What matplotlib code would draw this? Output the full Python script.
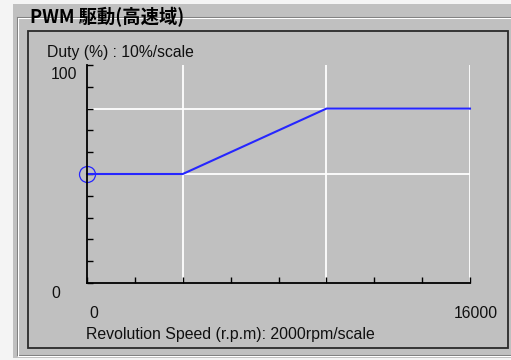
import matplotlib
matplotlib.use("Agg")
import matplotlib.pyplot as plt
from matplotlib.patches import Rectangle
from matplotlib.lines import Line2D

# Duty map for PWM drive in the high-speed range
speed_rpm = [0, 4000, 10000, 16000]
duty_pct = [50, 50, 80, 80]

x_ticks = list(range(0, 16001, 2000))
y_ticks = list(range(0, 101, 10))
grid_x = [4000, 10000, 16000]
grid_y = [50, 80]

title = "PWM 駆動(高速域)"
y_title = "Duty (%) : 10%/scale"
x_title = "Revolution Speed (r.p.m): 2000rpm/scale"
x_min_label, x_max_label = "0", "16000"
y_min_label, y_max_label = "0", "100"

W, H = 511, 360
PANEL = "#c0c0c0"
LINE_BLUE = "#2626ff"
TXT = "#101010"
font = ["Liberation Sans", "DejaVu Sans"]
cjk = ["Noto Sans CJK JP", "DejaVu Sans"]

fig = plt.figure(figsize=(W / 100, H / 100), dpi=100, facecolor="#f4f4f4")

# background layer in pixel coordinates: dialog panel, group box, inner frame
bg = fig.add_axes([0, 0, 1, 1])
bg.set_xlim(0, W)
bg.set_ylim(H, 0)
bg.axis("off")
bg.add_patch(Rectangle((13, 4), W - 13, 354, facecolor=PANEL, edgecolor="none"))

# etched group box lines
for off, col in ((0, "#808080"), (1, "#ffffff")):
    bg.add_line(Line2D([17 + off, W], [17 + off, 17 + off], color=col, lw=0.75))
    bg.add_line(Line2D([17 + off, 17 + off], [17 + off, 355 + off], color=col, lw=0.75))
    bg.add_line(Line2D([17 + off, W], [355 + off, 355 + off], color=col, lw=0.75))

# inner sunken frame
bg.add_patch(Rectangle((28, 31), 479.5, 317, facecolor=PANEL,
                       edgecolor="#2a2a2a", lw=1.3))

# group title with panel-coloured backing that breaks the etched line
bg.add_patch(Rectangle((25, 7), 169, 20, facecolor=PANEL, edgecolor="none"))
bg.text(30, 17.0, title, family=cjk, fontsize=13.2, fontweight="bold",
        color="#000000", ha="left", va="center")

bg.text(47, 53, y_title, family=font, fontsize=11.3, color=TXT,
        ha="left", va="center")
bg.text(86, 335, x_title, family=font, fontsize=11.4, color=TXT,
        ha="left", va="center")

# chart area
ax = fig.add_axes([87 / W, (H - 283) / H, 383 / W, 218 / H])
ax.set_facecolor("none")
ax.set_xlim(0, 16000)
ax.set_ylim(0, 100)
for side in ("top", "right"):
    ax.spines[side].set_visible(False)
for side in ("left", "bottom"):
    ax.spines[side].set_linewidth(1.3)
    ax.spines[side].set_color("#000000")
    ax.spines[side].set_zorder(5)

ax.set_xticks(x_ticks)
ax.set_yticks(y_ticks)
ax.tick_params(direction="in", length=4.4, width=1.0, color="#000000",
               labelbottom=False, labelleft=False)

ax.vlines(grid_x, 0, 100, colors="#ffffff", lw=1.3, zorder=1)
ax.hlines(grid_y, 0, 16000, colors="#ffffff", lw=1.3, zorder=1)

ax.plot(speed_rpm, duty_pct, color=LINE_BLUE, lw=1.5, zorder=3,
        clip_on=False, solid_joinstyle="miter")
ax.plot(speed_rpm[0], duty_pct[0], marker="o", ms=11.5, mfc="none",
        mec=LINE_BLUE, mew=0.9, zorder=4, clip_on=False)

# end labels of both axes
ax.annotate(y_max_label, (0, 100), xytext=(-16.2, -6.8), textcoords="offset points",
            family=font, fontsize=11.3, color=TXT, ha="center", va="center")
ax.annotate(y_min_label, (0, 0), xytext=(-22.3, -7.2), textcoords="offset points",
            family=font, fontsize=11.3, color=TXT, ha="center", va="center")
ax.annotate(x_min_label, (0, 0), xytext=(4.7, -22.3), textcoords="offset points",
            family=font, fontsize=11.3, color=TXT, ha="center", va="center")
ax.annotate(x_max_label, (16000, 0), xytext=(4.0, -22.3), textcoords="offset points",
            family=font, fontsize=11.3, color=TXT, ha="center", va="center")

fig.savefig("out.png", dpi=100, facecolor=fig.get_facecolor())
